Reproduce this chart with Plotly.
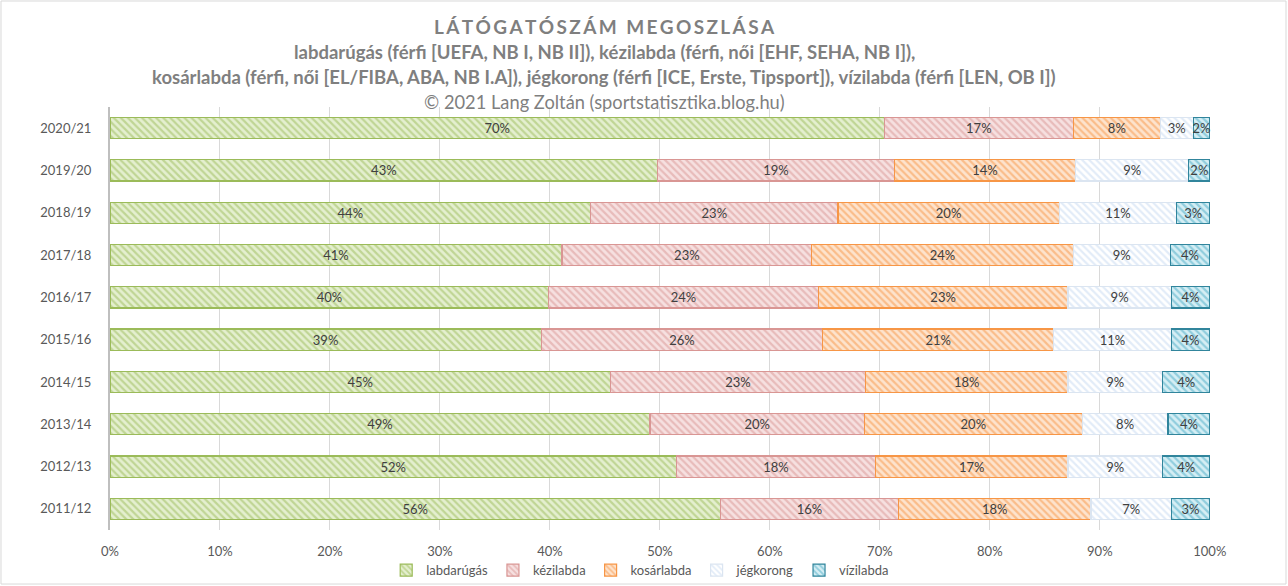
import plotly.graph_objects as go

seasons = ["2020/21", "2019/20", "2018/19", "2017/18", "2016/17",
           "2015/16", "2014/15", "2013/14", "2012/13", "2011/12"]

# bar shares (percent of total)
labdarugas = [70.4, 49.8, 43.7, 41.1, 39.9, 39.2, 45.5, 49.1, 51.5, 55.5]
kezilabda  = [17.2, 21.5, 22.5, 22.7, 24.5, 25.6, 23.2, 19.5, 18.1, 16.2]
kosarlabda = [7.9, 16.5, 20.1, 23.8, 22.7, 21.0, 18.4, 19.8, 17.5, 17.5]
jegkorong  = [3.0, 10.3, 10.7, 8.8, 9.4, 10.7, 8.6, 7.8, 8.6, 7.3]
vizilabda  = [1.5, 1.9, 3.0, 3.6, 3.5, 3.5, 4.3, 3.8, 4.3, 3.5]

# data labels as printed on the chart
lab_labdarugas = ["70%", "43%", "44%", "41%", "40%", "39%", "45%", "49%", "52%", "56%"]
lab_kezilabda  = ["17%", "19%", "23%", "23%", "24%", "26%", "23%", "20%", "18%", "16%"]
lab_kosarlabda = ["8%", "14%", "20%", "24%", "23%", "21%", "18%", "20%", "17%", "18%"]
lab_jegkorong  = ["3%", "9%", "11%", "9%", "9%", "11%", "9%", "8%", "9%", "7%"]
lab_vizilabda  = ["2%", "2%", "3%", "4%", "4%", "4%", "4%", "4%", "4%", "3%"]

# x axis ticks
x_tickvals = [0, 10, 20, 30, 40, 50, 60, 70, 80, 90, 100]
x_ticktext = ["0%", "10%", "20%", "30%", "40%", "50%", "60%", "70%", "80%", "90%", "100%"]

series = [
    ("labdarúgás", labdarugas, lab_labdarugas, "#e4efcf", "#9bbb59", "#9bbb59"),
    ("kézilabda", kezilabda, lab_kezilabda, "#f6e0e0", "#d99694", "#d99694"),
    ("kosárlabda", kosarlabda, lab_kosarlabda, "#fde3cd", "#f79646", "#f79646"),
    ("jégkorong", jegkorong, lab_jegkorong, "#ffffff", "#c6d9f1", "#dbe5f1"),
    ("vízilabda", vizilabda, lab_vizilabda, "#d5eef4", "#4bacc6", "#31859c"),
]

FONT = "Lato"
fig = go.Figure()
for name, vals, labs, bg, fg, edge in series:
    fig.add_trace(go.Bar(
        y=seasons, x=vals, name=name, orientation="h",
        text=labs, textposition="inside", insidetextanchor="middle",
        textangle=0, constraintext="none", cliponaxis=False,
        textfont=dict(family=FONT, size=13, color="#404040"),
        marker=dict(
            color=bg,
            line=dict(color=edge, width=1.2),
            pattern=dict(shape="\\", fgcolor=fg, bgcolor=bg, size=5,
                         solidity=0.45, fillmode="overlay"),
        ),
        width=0.5,
    ))

fig.update_layout(
    barmode="stack",
    width=1288, height=586,
    margin=dict(l=110, r=78, t=107, b=56, autoexpand=False),
    uniformtext=dict(mode="show", minsize=13),
    paper_bgcolor="white", plot_bgcolor="white",
    font=dict(family=FONT, color="#595959"),
    showlegend=True,
    legend=dict(orientation="h", x=0.482, xanchor="center", y=-0.095, yanchor="middle",
                font=dict(family=FONT, size=13, color="#595959"),
                bgcolor="rgba(0,0,0,0)",
                traceorder="normal", itemwidth=30),
    xaxis=dict(range=[0, 100.02], tickmode="array", tickvals=x_tickvals, ticktext=x_ticktext,
               showgrid=True, gridcolor="#d9d9d9", gridwidth=1, zeroline=False,
               tickfont=dict(family=FONT, size=13, color="#595959"),
               ticks="", ticklabelstandoff=12, showline=False),
    yaxis=dict(autorange="reversed", showgrid=False, showline=True,
               linecolor="#bfbfbf", linewidth=2,
               tickfont=dict(family=FONT, size=13, color="#595959"),
               ticks="", ticklabelstandoff=14),
    shapes=[dict(type="rect", xref="paper", yref="paper",
                 x0=-0.0991, x1=1.0691, y0=-0.1277, y1=1.2506,
                 line=dict(color="#d9d9d9", width=1), layer="below")],
)

title_txt = "\u2009".join("LÁTÓGATÓSZÁM MEGOSZLÁSA")
annos = [
    (title_txt, 27, 19, True),
    ("labdarúgás (férfi [UEFA, NB I, NB II]), kézilabda (férfi, női [EHF, SEHA, NB I]),", 52, 18.5, True),
    ("kosárlabda (férfi, női [EL/FIBA, ABA, NB I.A]), jégkorong (férfi [ICE, Erste, Tipsport]), vízilabda (férfi [LEN, OB I])", 77, 18.5, True),
    ("© 2021 Lang Zoltán (sportstatisztika.blog.hu)", 102, 18.3, False),
]
for txt, ypix, size, bold in annos:
    fig.add_annotation(
        text=f"<b>{txt}</b>" if bold else txt,
        xref="paper", yref="paper",
        x=(604 - 110) / 1100, y=(530 - ypix) / 423,
        xanchor="center", yanchor="middle", showarrow=False,
        font=dict(family=FONT, size=size, color="#7f7f7f"),
    )

fig.write_html("out.html")
